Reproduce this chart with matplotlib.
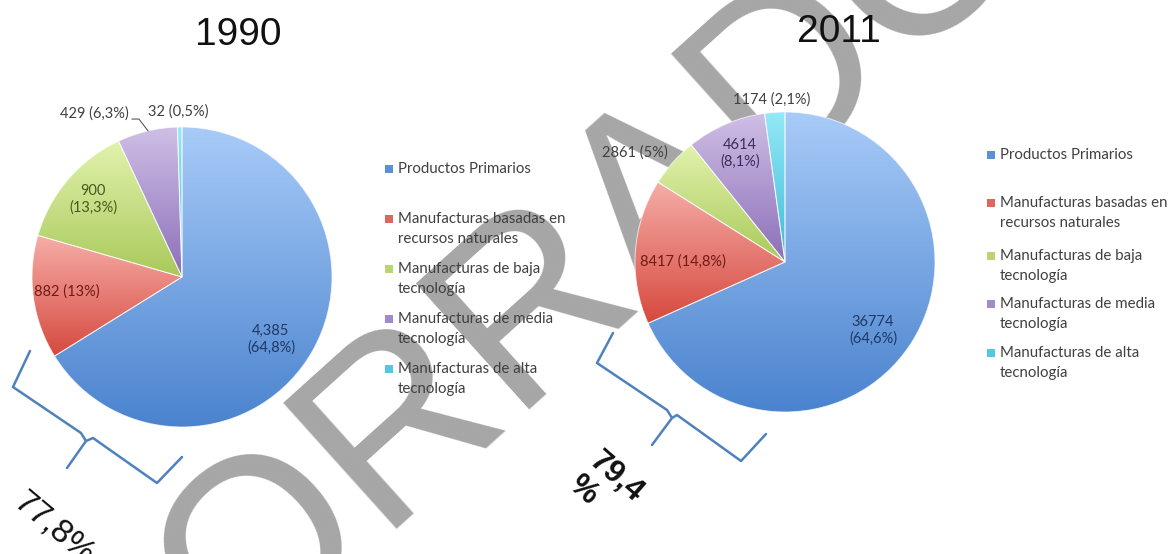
import numpy as np
import matplotlib
matplotlib.use("Agg")
import matplotlib.pyplot as plt
from matplotlib.colors import LinearSegmentedColormap
from matplotlib.patches import Rectangle

# ---------------- data ----------------
categories = [
    "Productos Primarios",
    "Manufacturas basadas en\nrecursos naturales",
    "Manufacturas de baja\ntecnología",
    "Manufacturas de media\ntecnología",
    "Manufacturas de alta\ntecnología",
]
years = ["1990", "2011"]
values_1990 = [4385, 882, 900, 429, 32]
labels_1990 = ["4,385\n(64,8%)", "882 (13%)", "900\n(13,3%)", "429 (6,3%)", "32 (0,5%)"]
values_2011 = [36774, 8417, 2861, 4614, 1174]
labels_2011 = ["36774\n(64,6%)", "8417 (14,8%)", "2861 (5%)", "4614\n(8,1%)", "1174 (2,1%)"]
share_1990 = "77,8%"
share_2011 = "79,4\n%"
watermark = "BORRADOR"

# ---------------- styling ----------------
W, H, DPI = 1172, 554, 100
grad_light = ["#a8cbf8", "#f6aea8", "#e2f2ad", "#cfbfe6", "#94e9f7"]
grad_dark = ["#4a83ce", "#d6493f", "#a9c95a", "#8c6fb8", "#3dbad6"]
swatch = ["#5b8fd6", "#e0655c", "#b9d673", "#a08acb", "#52c8e2"]
inside_text = ["#1f3864", "#6e1c16", "#4a5a1e", "#3c2d5a", "#404040"]
outside_text = "#404040"
LABEL_FONT = ["Lato", "DejaVu Sans"]
TITLE_FONT = ["Liberation Sans", "DejaVu Sans"]

fig = plt.figure(figsize=(W / DPI, H / DPI), dpi=DPI)
fig.patch.set_facecolor("white")


def px_axes(x0, y0, x1, y1, z):
    return fig.add_axes([x0 / W, 1 - y1 / H, (x1 - x0) / W, (y1 - y0) / H], zorder=z)


# background layer: draft watermark
bg = px_axes(0, 0, W, H, 0)
bg.set_xlim(0, W)
bg.set_ylim(H, 0)
bg.axis("off")
bg.text(600, 242, watermark, rotation=42, rotation_mode="anchor",
        ha="center", va="center", fontsize=178, color="#a6a6a6",
        family=TITLE_FONT)


def draw_pie(cx, cy, r, values, labels, label_pos, outside, leader=None):
    pad = 1.35
    ax = px_axes(cx - r * pad, cy - r * pad, cx + r * pad, cy + r * pad, 2)
    wedges, _ = ax.pie(values, startangle=90, counterclock=False, radius=1,
                       wedgeprops=dict(linewidth=0.7, edgecolor=(1, 1, 1, 0.7)))
    grad = np.linspace(0, 1, 256).reshape(-1, 1)
    for i, w in enumerate(wedges):
        bb = w.get_path().get_extents()
        cmap = LinearSegmentedColormap.from_list("g", [grad_light[i], grad_dark[i]])
        im = ax.imshow(grad, cmap=cmap, origin="upper", aspect="auto",
                       extent=(bb.x0, bb.x1, bb.y0, bb.y1), zorder=1,
                       interpolation="bilinear")
        im.set_clip_path(w)
        w.set_facecolor("none")
        w.set_zorder(2)
    for i, (txt, (x, y)) in enumerate(zip(labels, label_pos)):
        col = outside_text if outside[i] else inside_text[i]
        ax.text(x, y, txt, ha="center", va="center", fontsize=10.5, color=col,
                family=LABEL_FONT, linespacing=1.2, zorder=4)
    if leader is not None:
        ax.plot(*zip(*leader), color="#595959", lw=0.8, zorder=4, clip_on=False)
    ax.set_xlim(-pad, pad)
    ax.set_ylim(-pad, pad)
    ax.set_aspect("equal")
    ax.axis("off")
    return ax


draw_pie(182, 277, 150, values_1990, labels_1990,
         [(0.593, -0.413), (-0.767, -0.10), (-0.593, 0.52), (-0.587, 1.093), (-0.027, 1.10)],
         [False, False, False, True, True],
         leader=[(-0.333, 1.053), (-0.287, 1.053), (-0.227, 0.975)])
draw_pie(785, 262, 150, values_2011, labels_2011,
         [(0.587, -0.453), (-0.68, 0.0), (-1.0, 0.733), (-0.30, 0.727), (-0.087, 1.08)],
         [False, False, True, False, True])

# top layer: titles, legends, brackets and share notes
top = px_axes(0, 0, W, H, 3)
top.set_xlim(0, W)
top.set_ylim(H, 0)
top.axis("off")
top.patch.set_alpha(0)

top.text(238, 35, years[0], ha="center", va="center", fontsize=28, color="#111111", family=TITLE_FONT)
top.text(839, 32, years[1], ha="center", va="center", fontsize=28, color="#111111", family=TITLE_FONT)


def draw_legend(x_marker, x_text, rows, gap):
    for i, (name, y) in enumerate(zip(categories, rows)):
        top.add_patch(Rectangle((x_marker, y - 4), 8, 8, facecolor=swatch[i],
                                edgecolor="none"))
        for k, line in enumerate(name.split("\n")):
            top.text(x_text, y + k * gap, line, ha="left", va="center",
                     fontsize=10.8, color="#404040", family=LABEL_FONT)


draw_legend(385, 398, [169, 219, 269, 319, 369], 20)
draw_legend(987, 1000, [155, 203, 256, 304, 353], 20)


def draw_bracket(pts_a, pts_b):
    for pts in (pts_a, pts_b):
        xs, ys = zip(*pts)
        top.plot(xs, ys, color="#4f81bd", lw=1.8, solid_joinstyle="round",
                 solid_capstyle="round")


draw_bracket([(30, 351), (13, 387), (81, 433), (86, 441), (67, 468)],
             [(86, 441), (93, 438), (157, 483), (182, 457)])
draw_bracket([(613, 333), (597, 363), (667, 410), (672, 418), (652, 445)],
             [(672, 418), (677, 415), (741, 461), (766, 434)])

top.text(54, 528, share_1990, rotation=-40, rotation_mode="anchor",
         ha="center", va="center", fontsize=24, color="#111111", family=TITLE_FONT)
top.text(606, 489, share_2011, rotation=-41, rotation_mode="anchor",
         ha="center", va="center", multialignment="left", fontsize=22.5,
         color="#111111", family=TITLE_FONT, fontweight="bold", linespacing=1.05)

fig.savefig("out.png", dpi=DPI, facecolor="white")
